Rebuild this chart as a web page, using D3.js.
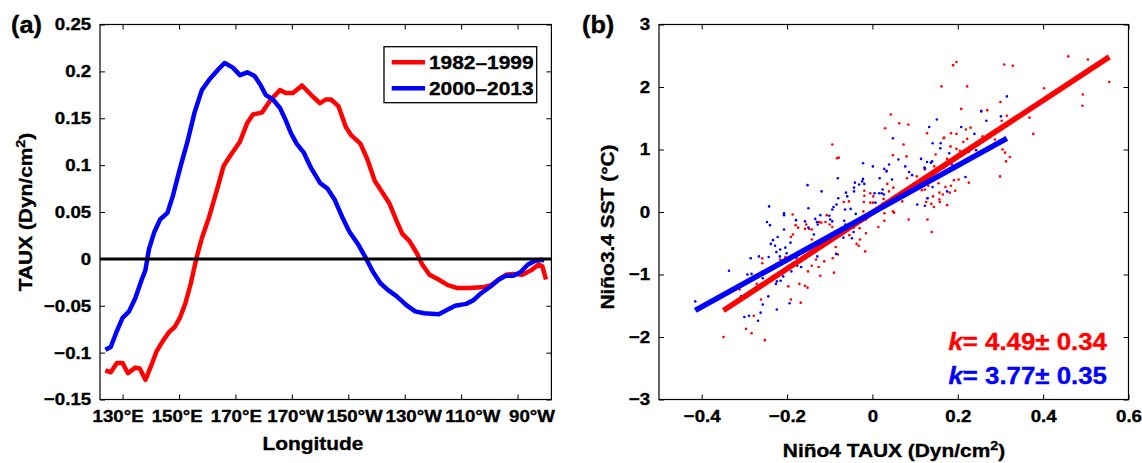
<!DOCTYPE html>
<html>
<head>
<meta charset="utf-8">
<script src="https://cdn.jsdelivr.net/npm/d3@7"></script>
<style>
  body { margin: 0; background: #fff; }
  svg { display: block; font-family: "Liberation Sans", Arial, sans-serif; font-weight: bold; }
  text { stroke-width: 0.35px; }
</style>
</head>
<body>
<div id="chart"></div>
<script>
// ---- panel (a): zonal wind stress along the equator ----
const lonTicks = [130, 150, 170, 190, 210, 230, 250, 270];
const lonLabels = ['130°E', '150°E', '170°E', '170°W', '150°W', '130°W', '110°W', '90°W'];
const tauxTicks = [-0.15, -0.1, -0.05, 0, 0.05, 0.1, 0.15, 0.2, 0.25];

const lonRed = [123.9, 125.8, 128, 130, 131.9, 134.5, 136.1, 138.1, 140, 142, 144.2, 146.5, 148.4, 150.3, 152.3, 154.2,
  156.2, 158.1, 160.7, 163.3, 165.8, 168.4, 171.6, 174.2, 176.2, 179.4, 182.6, 185.8, 187.8, 190.4, 193.6, 196.8, 200, 202,
  203.9, 206.5, 209.1, 211, 214.3, 216.8, 219.4, 221.4, 224.6, 227.2, 229.1, 231.7, 234.3, 236.2, 238.8, 242, 245.3, 248.5,
  253, 258.2, 260.7, 263.3, 265.9, 268.5, 271.7, 274.9, 277.5, 278.8, 280.1];
const tauxRed = [-0.119, -0.121, -0.111, -0.111, -0.122, -0.116, -0.117, -0.129, -0.115, -0.099, -0.088, -0.078, -0.073,
  -0.063, -0.047, -0.026, 0.001, 0.022, 0.045, 0.072, 0.099, 0.111, 0.125, 0.145, 0.154, 0.156, 0.170, 0.180, 0.177, 0.177,
  0.185, 0.175, 0.166, 0.170, 0.170, 0.163, 0.141, 0.132, 0.123, 0.106, 0.083, 0.074, 0.059, 0.040, 0.027, 0.019, 0.006,
  -0.006, -0.017, -0.022, -0.028, -0.031, -0.031, -0.030, -0.028, -0.022, -0.017, -0.016, -0.017, -0.012, -0.006, -0.008, -0.022];

const lonBlue = [123.9, 125.8, 127.7, 130, 132.3, 134.5, 136.8, 138.1, 139.4, 141.3, 143.3, 145.9, 147.8, 150.4, 153, 155.5,
  158.1, 160.7, 163.9, 166.2, 169.1, 171.6, 174.2, 176.8, 178.8, 180.7, 183.3, 185.8, 187.8, 189.7, 191.7, 194.3, 196.8, 200,
  202.6, 205.2, 207.8, 210.4, 213.6, 216.2, 218.8, 221.4, 224, 227.2, 230.5, 233.7, 236.9, 242.1, 245.3, 247.9, 251.8, 254.4,
  256.9, 260.2, 263.4, 265.9, 268.5, 271.1, 273.7, 276.3, 278.8, 279.5];
const tauxBlue = [-0.097, -0.094, -0.079, -0.063, -0.056, -0.042, -0.022, -0.012, 0.011, 0.029, 0.042, 0.049, 0.067, 0.097,
  0.125, 0.156, 0.180, 0.191, 0.202, 0.209, 0.204, 0.196, 0.199, 0.195, 0.186, 0.175, 0.170, 0.161, 0.148, 0.134, 0.123,
  0.113, 0.097, 0.081, 0.075, 0.063, 0.045, 0.029, 0.015, 0.001, -0.014, -0.026, -0.033, -0.040, -0.049, -0.056, -0.058,
  -0.059, -0.054, -0.050, -0.048, -0.044, -0.037, -0.030, -0.022, -0.018, -0.018, -0.014, -0.006, -0.002, -0.001, -0.002];

const periods = ['1982–1999', '2000–2013'];
const colors = ['#ff0000', '#0000ff'];

// ---- panel (b): Nino4 TAUX vs Nino3.4 SST ----
const bxTicks = [-0.4, -0.2, 0, 0.2, 0.4, 0.6];
const byTicks = [-3, -2, -1, 0, 1, 2, 3];

const redTaux = [0.043, 0.030, 0.063, 0.084, -0.094, -0.083, -0.079, 0.073, 0.048, 0.080, 0.034, 0.081, 0.035, 0.049,
  -0.019, -0.019, -0.005, 0.002, 0.039, 0.026, 0.197, 0.189, 0.309, 0.329, 0.459, 0.505, 0.162, 0.222, 0.402, 0.555, 0.493,
  0.492, 0.300, 0.208, 0.255, 0.269, 0.303, 0.315, 0.368, 0.377, 0.230, 0.219, 0.128, 0.184, 0.197, 0.168, 0.167, 0.222,
  0.213, 0.258, 0.287, 0.305, 0.311, 0.322, 0.313, 0.299, 0.183, 0.197, 0.205, 0.148, 0.175, 0.145, 0.123, 0.104, 0.122,
  0.155, 0.171, 0.184, 0.191, 0.202, 0.226, 0.131, 0.123, 0.116, 0.157, 0.165, 0.181, 0.194, 0.142, -0.187, -0.180, -0.174,
  -0.191, -0.186, -0.158, -0.148, -0.142, -0.155, -0.125, -0.120, -0.107, -0.110, -0.094, -0.100, -0.067, -0.055, -0.020,
  -0.005, -0.021, -0.030, -0.015, -0.017, -0.029, -0.037, -0.032, -0.044, -0.054, -0.086, -0.081, -0.093, -0.113, -0.132,
  -0.142, -0.126, -0.151, -0.122, -0.090, -0.142, -0.149, -0.204, -0.216, -0.258, -0.258, -0.271, -0.197, -0.171, -0.158,
  -0.152, -0.191, -0.168, -0.261, -0.278, -0.296, -0.283, -0.252, -0.349, -0.311, -0.015, 0.003, 0.014, 0.028, 0.028, 0.048,
  0.051, 0.070, 0.085, 0.001, 0.157, 0.158, 0.175, 0.144, 0.138, 0.126, 0.129, 0.139, 0.129];
const redSst = [1.56, 1.34, 1.42, 1.40, 1.08, 0.86, 0.87, 1.08, 0.91, 0.89, 0.66, 0.54, 0.45, 0.39, 0.34, 0.26, 0.30, 0.25,
  0.33, 0.21, 2.40, 2.35, 2.36, 2.34, 2.49, 2.44, 2.01, 2.01, 1.98, 2.08, 1.88, 1.70, 1.76, 1.65, 1.62, 1.63, 1.46, 1.54,
  1.51, 1.25, 1.35, 1.32, 1.26, 1.26, 1.25, 1.19, 1.18, 1.17, 1.12, 1.21, 1.16, 1.00, 0.95, 0.88, 0.81, 0.57, 1.05, 1.01,
  0.98, 0.92, 0.85, 0.73, 0.68, 0.57, 0.52, 0.46, 0.40, 0.42, 0.51, 0.52, 0.47, 0.42, 0.36, 0.35, 0.31, 0.28, 0.31, 0.34,
  0.25, -0.04, -0.21, -0.25, -0.40, -0.36, -0.27, -0.27, -0.28, -0.20, -0.16, -0.17, -0.05, -0.16, -0.24, -0.20, 0.16, 0.17,
  0.16, 0.15, 0.01, -0.26, -0.34, -0.63, -0.44, -0.51, -0.54, -0.25, -0.37, -0.56, -0.68, -0.74, -0.79, -0.76, -0.86, -0.88,
  -0.95, -1.02, -0.97, -0.44, -0.60, -0.72, -0.76, -0.74, -0.82, -1.15, -1.19, -1.15, -1.18, -1.21, -1.40, -1.45, -1.40,
  -1.66, -1.87, -1.94, -2.05, -2.00, -1.24, -0.12, 0.02, -0.24, -0.14, -0.02, 0.01, -0.01, 0.17, -0.12, 0.15, 0.20, 0.16,
  0.11, 0.08, 0.13, 0.16, -0.12, -0.32, 0.22];

const blueTaux = [-0.152, -0.119, -0.081, -0.022, 0.001, 0.028, 0.033, 0.039, 0.048, 0.061, 0.077, 0.086, 0.017, 0.046,
  -0.022, -0.024, -0.019, -0.041, -0.031, -0.043, -0.043, -0.062, -0.059, -0.080, 0.005, 0.016, 0.024, 0.027, 0.022, 0.315,
  0.255, 0.151, 0.267, 0.301, 0.133, 0.208, 0.239, 0.141, 0.160, 0.159, 0.180, 0.114, 0.128, 0.140, 0.137, 0.122, 0.123,
  0.093, 0.109, 0.218, 0.243, 0.225, 0.175, 0.186, 0.167, 0.141, 0.175, 0.129, -0.242, -0.207, -0.207, -0.247, -0.240,
  -0.179, -0.150, -0.207, -0.222, -0.233, -0.238, -0.192, -0.228, -0.216, -0.204, -0.225, -0.201, -0.217, -0.243, -0.266,
  -0.285, -0.336, -0.293, -0.283, -0.265, -0.257, -0.233, -0.209, -0.224, -0.215, -0.226, -0.190, -0.196, -0.176, -0.167,
  -0.178, -0.162, -0.158, -0.134, -0.130, -0.128, -0.150, -0.137, -0.122, -0.101, -0.091, -0.094, -0.084, -0.064, -0.051,
  -0.066, -0.063, -0.044, -0.048, -0.068, -0.099, -0.094, -0.129, -0.085, -0.194, -0.224, -0.257, -0.244, -0.262, -0.289,
  -0.300, -0.268, -0.415, -0.308, -0.039, 0.007, 0.024, 0.105, 0.123];
const blueSst = [0.43, 0.33, 0.54, 0.78, 0.73, 0.69, 0.65, 0.76, 1.18, 0.84, 0.73, 0.64, 0.54, 0.52, 0.53, 0.49, 0.45, 0.47,
  0.44, 0.39, 0.33, 0.31, 0.25, 0.22, 0.30, 0.30, 0.36, 0.28, 0.30, 1.85, 1.61, 1.48, 1.46, 1.53, 1.36, 1.36, 1.25, 1.10,
  1.10, 1.02, 0.94, 0.85, 0.80, 0.81, 0.79, 0.71, 0.70, 0.59, 0.49, 0.56, 0.99, 0.96, 0.77, 0.76, 0.71, 0.40, 0.33, 0.22,
  0.09, -0.05, -0.02, -0.16, -0.21, -0.13, 0.06, -0.28, -0.40, -0.45, -0.51, -0.49, -0.54, -0.60, -0.57, -0.64, -0.66, -0.71,
  -0.72, -0.71, -0.74, -0.94, -1.00, -0.99, -1.02, -1.06, -1.03, -1.03, -1.11, -1.10, -1.15, -0.95, -0.87, -0.86, -0.88,
  -0.73, -0.64, -0.15, -0.11, -0.16, -0.20, -0.25, -0.36, -0.05, -0.06, 0.08, 0.04, 0.12, 0.04, 0.05, -0.14, -0.20, -0.32,
  -0.42, -0.41, -0.12, -0.15, -0.71, -0.67, -1.46, -1.56, -1.48, -1.35, -1.61, -1.66, -1.68, -1.74, -1.43, -1.35, -0.03,
  0.15, 0.13, 0.12, 0.10];

const fitSlope = [4.49, 3.77];
const fitError = [0.34, 0.35];
const fitIntercept = [-0.01, -0.01];

// MATLAB's Helvetica runs a little wider than Liberation Sans
const STRETCH = 'scale(1.1,1)';

const svg = d3.select('#chart').append('svg')
  .attr('width', 1142)
  .attr('height', 463);

function addText(x, y, size, angle = 0, color = '#000') {
  return svg.append('text')
    .attr('transform', `translate(${x},${y}) rotate(${angle}) ${STRETCH}`)
    .attr('font-size', size)
    .attr('fill', color)
    .attr('stroke', color);
}

// Box with inward ticks on all four sides
function drawFrame(x, y, xTicks, yTicks, xFmt, yFmt, xLabelShift = () => 0) {
  const [x0, x1] = x.range();
  const [y0, y1] = y.range();
  const tidy = g => {
    g.select('.domain').remove();
    g.selectAll('line').attr('stroke', '#000').attr('stroke-width', 1);
    g.selectAll('text').attr('transform', STRETCH).attr('fill', '#000').attr('stroke', '#000');
    g.attr('font-size', 17).attr('font-family', null);
  };

  svg.append('g').attr('transform', `translate(0,${y0})`)
    .call(d3.axisBottom(x).tickValues(xTicks).tickFormat(xFmt).tickSizeInner(-5).tickSizeOuter(0).tickPadding(10))
    .call(tidy)
    .selectAll('text')
    .attr('transform', (d, i) => `translate(${xLabelShift(i)},0) ${STRETCH}`);
  svg.append('g').attr('transform', `translate(0,${y1})`)
    .call(d3.axisTop(x).tickValues(xTicks).tickFormat('').tickSizeInner(-5).tickSizeOuter(0))
    .call(tidy);
  svg.append('g').attr('transform', `translate(${x0},0)`)
    .call(d3.axisLeft(y).tickValues(yTicks).tickFormat(yFmt).tickSizeInner(-5).tickSizeOuter(0).tickPadding(8))
    .call(tidy);
  svg.append('g').attr('transform', `translate(${x1},0)`)
    .call(d3.axisRight(y).tickValues(yTicks).tickFormat('').tickSizeInner(-5).tickSizeOuter(0))
    .call(tidy);

  svg.append('rect')
    .attr('x', x0).attr('y', y1)
    .attr('width', x1 - x0).attr('height', y0 - y1)
    .attr('fill', 'none')
    .attr('stroke', '#000')
    .attr('stroke-width', 1.2);
}

// ================= Panel (a) =================
const xA = d3.scaleLinear().domain([122, 282]).range([100, 551.4]);
const yA = d3.scaleLinear().domain([-0.15, 0.25]).range([399.5, 24.5]);

const curves = [
  lonRed.map((lon, i) => ({ lon, v: tauxRed[i] })),
  lonBlue.map((lon, i) => ({ lon, v: tauxBlue[i] }))
];

const lineA = d3.line().x(d => xA(d.lon)).y(d => yA(d.v));

curves.forEach((c, i) => {
  svg.append('path')
    .datum(c)
    .attr('fill', 'none')
    .attr('stroke', colors[i])
    .attr('stroke-width', 4.5)
    .attr('stroke-linejoin', 'round')
    .attr('d', lineA);
});

// zero line
svg.append('line')
  .attr('x1', xA.range()[0]).attr('x2', xA.range()[1])
  .attr('y1', yA(0)).attr('y2', yA(0))
  .attr('stroke', '#000')
  .attr('stroke-width', 3);

// longitude labels are spread a bit wider than their ticks in the original
drawFrame(xA, yA, lonTicks, tauxTicks,
  d => lonLabels[lonTicks.indexOf(d)],
  d => d3.format('')(d),
  i => (i - 1.85) * 2.7);

// Legend
const legend = svg.append('g').attr('transform', 'translate(384,46.7)');
legend.append('rect')
  .attr('width', 152.7).attr('height', 56)
  .attr('fill', '#fff')
  .attr('stroke', '#000')
  .attr('stroke-width', 1.3);
periods.forEach((p, i) => {
  const ly = 15.6 + i * 26;
  legend.append('line')
    .attr('x1', 7.7).attr('x2', 41)
    .attr('y1', ly).attr('y2', ly)
    .attr('stroke', colors[i])
    .attr('stroke-width', 4.5);
  legend.append('text')
    .attr('transform', `translate(45,${ly + 6.6}) ${STRETCH}`)
    .attr('font-size', 19)
    .attr('stroke', '#000')
    .text(p);
});

addText(11, 32.5, 23).text('(a)');
addText(313, 449.5, 19).attr('text-anchor', 'middle').text('Longitude');
const yLabA = addText(32, 212, 19, -90).attr('text-anchor', 'middle');
yLabA.append('tspan').text('TAUX (Dyn/cm');
yLabA.append('tspan').attr('dy', -7).attr('font-size', 13).text('2');
yLabA.append('tspan').attr('dy', 7).text(')');

// ================= Panel (b) =================
const xB = d3.scaleLinear().domain([-0.5, 0.6]).range([659, 1128.5]);
const yB = d3.scaleLinear().domain([-3, 3]).range([399.5, 24.5]);

const scatter = [
  redTaux.map((t, i) => ({ t, s: redSst[i] })),
  blueTaux.map((t, i) => ({ t, s: blueSst[i] }))
];

scatter.forEach((pts, i) => {
  svg.append('g')
    .selectAll('circle')
    .data(pts)
    .enter().append('circle')
    .attr('cx', d => xB(d.t))
    .attr('cy', d => yB(d.s))
    .attr('r', 1.3)
    .attr('fill', colors[i]);
});

// regression lines over the range of each period's data
scatter.forEach((pts, i) => {
  const ext = d3.extent(pts, d => d.t);
  const fit = ext.map(t => ({ t, s: fitSlope[i] * t + fitIntercept[i] }));
  svg.append('path')
    .datum(fit)
    .attr('fill', 'none')
    .attr('stroke', colors[i])
    .attr('stroke-width', 5.5)
    .attr('d', d3.line().x(d => xB(d.t)).y(d => yB(d.s)));
});

drawFrame(xB, yB, bxTicks, byTicks, d => d3.format('')(d), d => d3.format('')(d));

fitSlope.forEach((k, i) => {
  const t = addText(1107, 350 + i * 34, 23.5, 0, colors[i]).attr('text-anchor', 'end');
  t.append('tspan').attr('font-style', 'italic').text('k');
  t.append('tspan').text(`= ${k.toFixed(2)}± ${fitError[i].toFixed(2)}`);
});

addText(582, 33, 23).text('(b)');
const xLabB = addText(894, 457, 19).attr('text-anchor', 'middle');
xLabB.append('tspan').text('Niño4 TAUX (Dyn/cm');
xLabB.append('tspan').attr('dy', -7).attr('font-size', 13).text('2');
xLabB.append('tspan').attr('dy', 7).text(')');
addText(614, 227, 19, -90).attr('text-anchor', 'middle').text('Niño3.4 SST (°C)');
</script>
</body>
</html>
